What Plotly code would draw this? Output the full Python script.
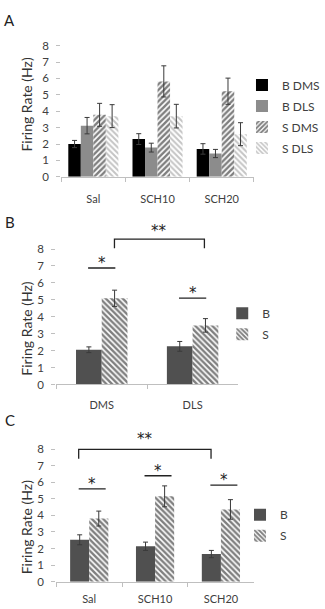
import plotly.graph_objects as go

# ---------------- data ----------------
cats_a = ["Sal", "SCH10", "SCH20"]
a_b_dms = [2.0, 2.3, 1.7]
a_b_dms_err = [0.22, 0.33, 0.32]
a_b_dls = [3.12, 1.78, 1.42]
a_b_dls_err = [0.5, 0.27, 0.25]
a_s_dms = [3.78, 5.82, 5.22]
a_s_dms_err = [0.7, 0.95, 0.8]
a_s_dls = [3.7, 3.7, 2.6]
a_s_dls_err = [0.7, 0.72, 0.7]

cats_b = ["DMS", "DLS"]
b_b = [2.05, 2.25]
b_b_err = [0.17, 0.29]
b_s = [5.09, 3.49]
b_s_err = [0.48, 0.4]

cats_c = ["Sal", "SCH10", "SCH20"]
c_b = [2.53, 2.14, 1.67]
c_b_err = [0.3, 0.25, 0.22]
c_s = [3.81, 5.15, 4.36]
c_s_err = [0.45, 0.63, 0.59]

y_ticks = [0, 1, 2, 3, 4, 5, 6, 7, 8]
# significance markers (heights in Hz)
b_single_sig = [6.88, 5.1]
b_double_sig = [8.04, 8.58]
c_single_sig = [5.6, 6.39, 5.82]
c_double_sig = [7.41, 7.98]

FONT = "Lato"
TXT = "#404040"
W, H = 325, 609

fig = go.Figure()

def px_x(p):
    return p / W

def px_y(p):
    return 1 - p / H

def err(vals):
    return dict(type="data", array=vals, visible=True, color="#3a3a3a", thickness=1, width=2.5)

DARK_PAT = lambda shape: dict(shape=shape, fgcolor="#000000", bgcolor="white", size=4, solidity=0.6)

# ---------- Panel A ----------
wa = 0.195
specs_a = [
    ("B DMS", a_b_dms, a_b_dms_err, dict(color="black")),
    ("B DLS", a_b_dls, a_b_dls_err, dict(color="#8c8c8c")),
    ("S DMS", a_s_dms, a_s_dms_err, dict(color="white", pattern=DARK_PAT("/"))),
    ("S DLS", a_s_dls, a_s_dls_err, dict(color="white", pattern=dict(shape="\\", fgcolor="#8a8a8a", bgcolor="white", size=4, solidity=0.5))),
]
for i, (name, vals, e, mk) in enumerate(specs_a):
    mk = dict(mk)
    mk["line"] = dict(width=0)
    fig.add_trace(go.Bar(x=cats_a, y=vals, name=name, marker=mk, error_y=err(e),
                         width=wa, offset=-2 * wa + i * wa, xaxis="x", yaxis="y",
                         legend="legend", legendgroup=name))

# ---------- Panel B ----------
wb = 0.283
fig.add_trace(go.Bar(x=cats_b, y=b_b, name="B", marker=dict(color="#505050", line=dict(width=0)),
                     error_y=err(b_b_err), width=wb, offset=-wb, xaxis="x2", yaxis="y2",
                     legend="legend2", legendgroup="bB"))
fig.add_trace(go.Bar(x=cats_b, y=b_s, name="S",
                     marker=dict(color="white", line=dict(width=0), pattern=DARK_PAT("\\")),
                     error_y=err(b_s_err), width=wb, offset=0, xaxis="x2", yaxis="y2",
                     legend="legend2", legendgroup="bS"))

# ---------- Panel C ----------
wc = 0.29
fig.add_trace(go.Bar(x=cats_c, y=c_b, name="B", marker=dict(color="#505050", line=dict(width=0)),
                     error_y=err(c_b_err), width=wc, offset=-wc, xaxis="x3", yaxis="y3",
                     legend="legend3", legendgroup="cB"))
fig.add_trace(go.Bar(x=cats_c, y=c_s, name="S",
                     marker=dict(color="white", line=dict(width=0), pattern=DARK_PAT("\\")),
                     error_y=err(c_s_err), width=wc, offset=0, xaxis="x3", yaxis="y3",
                     legend="legend3", legendgroup="cS"))

# ---------- axes ----------
def xaxis(dom, standoff):
    return dict(domain=dom, type="category", showline=True, linecolor="#bfbfbf", linewidth=1,
                ticks="outside", tickson="boundaries", ticklen=4, tickcolor="#bfbfbf",
                showgrid=False, zeroline=False, fixedrange=True,
                tickfont=dict(family=FONT, size=11, color=TXT), ticklabelstandoff=standoff)

def yaxis(dom, rng, anchor):
    return dict(domain=dom, range=rng, anchor=anchor, tickvals=y_ticks, showline=False,
                ticks="outside", ticklen=4, tickcolor="#bfbfbf", showgrid=False, zeroline=False,
                tickfont=dict(family=FONT, size=11.5, color=TXT), ticklabelstandoff=5)

# pixel geometry
a_y0, a_unit = 173.5, 16.75
b_y0, b_unit = 385.7, 17.3
c_y0, c_unit = 587.3, 16.95

fig.update_layout(
    xaxis=xaxis([px_x(62), px_x(257)], 12) | dict(anchor="y"),
    yaxis=yaxis([px_y(a_y0), px_y(a_y0 - 8 * a_unit)], [0, 8], "x"),
    xaxis2=xaxis([px_x(57), px_x(241)], 10) | dict(anchor="y2"),
    yaxis2=yaxis([px_y(b_y0), px_y(b_y0 - 9 * b_unit)], [0, 9], "x2"),
    xaxis3=xaxis([px_x(57), px_x(257)], 7) | dict(anchor="y3"),
    yaxis3=yaxis([px_y(c_y0), px_y(c_y0 - 9 * c_unit)], [0, 9], "x3"),
)

# ---------- significance markers ----------
shapes = []
annots = []
line_style = dict(color="#222222", width=1.3)
STAR = dict(family="DejaVu Sans", size=15, color="#222222")
for i, h in enumerate(b_single_sig):
    shapes.append(dict(type="line", xref="x2", yref="y2", x0=i - 0.15, x1=i + 0.15, y0=h, y1=h, line=line_style))
    annots.append(dict(xref="x2", yref="y2", x=i, y=h, text="*", showarrow=False, yanchor="bottom",
                       yshift=-6, font=STAR))
lo, hi = b_double_sig
shapes.append(dict(type="path", xref="x2", yref="y2",
                   path=f"M 0.14,{lo} L 0.14,{hi} L 1.13,{hi} L 1.13,{lo}", line=line_style))
annots.append(dict(xref="x2", yref="y2", x=0.63, y=hi, text="**", showarrow=False, yanchor="bottom",
                   yshift=-3, font=STAR))

for i, h in enumerate(c_single_sig):
    shapes.append(dict(type="line", xref="x3", yref="y3", x0=i - 0.16, x1=i + 0.25, y0=h, y1=h, line=line_style))
    annots.append(dict(xref="x3", yref="y3", x=i + 0.045, y=h, text="*", showarrow=False, yanchor="bottom",
                       yshift=-6, font=STAR))
lo, hi = c_double_sig
shapes.append(dict(type="path", xref="x3", yref="y3",
                   path=f"M -0.16,{lo} L -0.16,{hi} L 1.85,{hi} L 1.85,{lo}", line=line_style))
annots.append(dict(xref="x3", yref="y3", x=0.84, y=hi, text="**", showarrow=False, yanchor="bottom",
                   yshift=-1, font=STAR))

# panel letters and axis titles
for letter, yc in [("A", 13), ("B", 220), ("C", 422)]:
    annots.append(dict(xref="paper", yref="paper", x=px_x(10), y=px_y(yc), text=letter, showarrow=False,
                       xanchor="center", yanchor="middle", font=dict(family=FONT, size=15, color="#222")))
for yc in [100, 329, 532]:
    annots.append(dict(xref="paper", yref="paper", x=px_x(27), y=px_y(yc), text="Firing Rate (Hz)",
                       showarrow=False, textangle=-90, xanchor="center", yanchor="middle",
                       font=dict(family=FONT, size=14, color="#333")))

leg_common = dict(font=dict(family=FONT, size=12, color=TXT), bgcolor="rgba(0,0,0,0)",
                  xanchor="left", yanchor="top", tracegroupgap=2, itemclick=False)
fig.update_layout(
    width=W, height=H, margin=dict(l=0, r=0, t=0, b=0),
    paper_bgcolor="white", plot_bgcolor="white",
    barmode="overlay", showlegend=True,
    legend=leg_common | dict(x=px_x(245), y=px_y(65)),
    legend2=leg_common | dict(x=px_x(225), y=px_y(298)),
    legend3=leg_common | dict(x=px_x(243), y=px_y(504)),
    shapes=shapes, annotations=annots,
    font=dict(family=FONT, color=TXT),
)

fig.write_html("out.html")
